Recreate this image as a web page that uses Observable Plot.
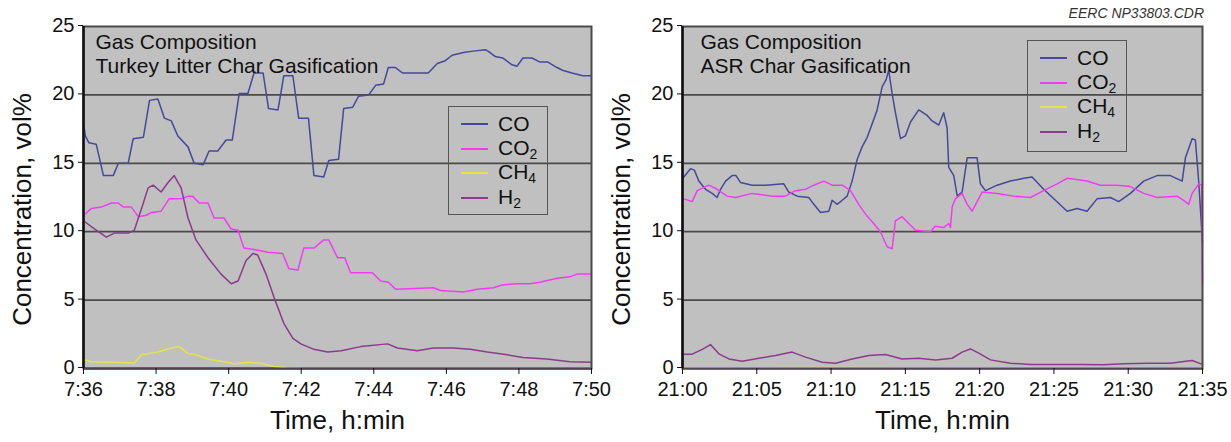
<!DOCTYPE html>
<html>
<head>
<meta charset="utf-8">
<script src="https://cdn.jsdelivr.net/npm/d3@7"></script>
<script src="https://cdn.jsdelivr.net/npm/@observablehq/plot@0.6"></script>
<style>
  html, body { margin: 0; padding: 0; background: #fff; }
  #wrap { position: relative; width: 1231px; height: 442px; overflow: hidden; font-family: "Liberation Sans", Arial, sans-serif; }
  .panel { position: absolute; top: 0; }
  .legend { position: absolute; border: 1.5px solid #555; box-sizing: border-box; }
  .legend .row { position: absolute; left: 0; height: 24px; display: flex; align-items: center; font-size: 21px; color: #111; }
  .legend .sw { display: inline-block; width: 27px; height: 0; border-top: 2px solid; margin-left: 12px; margin-right: 10px; }
  .legend sub { font-size: 14px; vertical-align: -4px; }
  .note { position: absolute; font-style: italic; font-size: 14px; color: #333; }
</style>
</head>
<body>
<div id="wrap"></div>
<script>
// ---------------- data ----------------
const seriesNames = ["CO", "CO2", "CH4", "H2"];
const seriesColors = ["#47479c", "#f23cf2", "#e4e44a", "#8c3a8c"];
const yTicks = [0, 5, 10, 15, 20, 25];

// Left chart: Turkey litter, minutes after 7:36
const leftStart = 7 * 60 + 36;
const leftEnd = 7 * 60 + 50;
const leftTicks = [456, 458, 460, 462, 464, 466, 468, 470];
const leftTitle = ["Gas Composition", "Turkey Litter Char Gasification"];
const leftCO = [[0,17.9],[0.05,17.0],[0.15,16.5],[0.35,16.4],[0.55,14.1],[0.82,14.1],[0.96,15.0],[1.23,15.0],[1.37,16.8],[1.65,16.9],[1.82,19.6],[2.05,19.7],[2.23,18.3],[2.42,18.1],[2.6,17.0],[2.88,16.2],[3.05,15.0],[3.3,14.9],[3.46,15.9],[3.7,15.9],[3.93,16.7],[4.1,16.7],[4.29,20.1],[4.53,20.1],[4.7,21.6],[4.95,21.6],[5.1,19.0],[5.36,18.9],[5.52,21.4],[5.77,21.4],[5.93,18.3],[6.2,18.3],[6.35,14.1],[6.62,14.0],[6.76,15.2],[7.03,15.3],[7.17,19.0],[7.42,19.1],[7.58,19.9],[7.86,20.0],[8.05,20.7],[8.27,20.8],[8.4,22.0],[8.6,22.0],[8.79,21.6],[9.5,21.6],[9.75,22.3],[9.97,22.5],[10.16,22.9],[10.47,23.1],[10.74,23.2],[11.07,23.3],[11.15,23.2],[11.35,22.8],[11.55,22.7],[11.81,22.2],[11.95,22.1],[12.11,22.7],[12.36,22.7],[12.58,22.4],[12.8,22.4],[13.05,22.0],[13.2,21.8],[13.46,21.6],[13.76,21.4],[14,21.4]];
const leftCO2 = [[0,11.2],[0.22,11.7],[0.49,11.8],[0.77,12.1],[0.95,12.1],[1.1,11.8],[1.32,11.8],[1.51,11.1],[1.73,11.2],[1.87,11.4],[2.14,11.5],[2.36,12.4],[2.69,12.4],[2.88,12.6],[3.0,12.6],[3.19,12.1],[3.43,12.1],[3.6,11.0],[3.87,11.0],[4.07,10.2],[4.26,10.1],[4.42,8.8],[4.7,8.7],[5.08,8.5],[5.49,8.4],[5.66,7.3],[5.91,7.2],[6.07,8.8],[6.35,8.8],[6.62,9.4],[6.76,9.4],[7.0,8.1],[7.2,8.1],[7.36,7.0],[7.96,7.0],[8.19,6.4],[8.4,6.3],[8.6,5.8],[9.64,5.9],[9.84,5.7],[10.47,5.6],[10.85,5.8],[11.3,5.9],[11.54,6.1],[11.95,6.2],[12.3,6.2],[12.58,6.3],[13.05,6.6],[13.4,6.7],[13.6,6.9],[14,6.9]];
const leftCH4 = [[0,0.67],[0.22,0.5],[0.85,0.45],[1.4,0.4],[1.6,1.0],[2.05,1.2],[2.42,1.5],[2.64,1.6],[2.88,1.1],[3.1,1.0],[3.43,0.7],[3.87,0.5],[4.15,0.35],[4.6,0.45],[4.95,0.35],[5.25,0.15],[5.6,0.05],[6,0.02],[14,0.02]];
const leftH2 = [[0,10.8],[0.3,10.2],[0.63,9.6],[0.85,9.9],[1.23,9.9],[1.4,10.1],[1.6,11.7],[1.78,13.2],[1.92,13.4],[2.14,12.9],[2.33,13.6],[2.5,14.1],[2.69,13.2],[2.88,11.0],[3.1,9.4],[3.43,8.1],[3.79,6.9],[4.07,6.2],[4.26,6.4],[4.48,7.9],[4.67,8.4],[4.8,8.3],[5.03,6.9],[5.25,5.2],[5.52,3.3],[5.77,2.2],[5.99,1.8],[6.35,1.4],[6.73,1.2],[7.1,1.3],[7.64,1.6],[8.38,1.8],[8.65,1.5],[9.2,1.3],[9.64,1.5],[10.19,1.5],[10.66,1.4],[11.13,1.2],[11.68,1.0],[12.11,0.8],[12.77,0.7],[13.4,0.5],[14,0.45]];

// Right chart: ASR, minutes after 21:00
const rightStart = 21 * 60;
const rightEnd = 21 * 60 + 35;
const rightTicks = [1260, 1265, 1270, 1275, 1280, 1285, 1290, 1295];
const rightTitle = ["Gas Composition", "ASR Char Gasification"];
const rightCO = [[0,13.9],[0.09,14.0],[0.54,14.6],[0.8,14.5],[1.1,13.7],[1.55,13.1],[2.0,12.8],[2.33,12.5],[2.56,13.1],[2.9,13.7],[3.34,14.1],[3.6,14.1],[3.9,13.6],[4.69,13.4],[5.59,13.4],[6.82,13.5],[7.15,12.9],[7.72,12.6],[8.5,12.5],[8.84,12.0],[9.29,11.4],[9.85,11.5],[10.07,12.3],[10.41,12.0],[10.75,12.3],[11.08,12.6],[11.42,13.7],[11.76,15.3],[12.09,16.2],[12.43,16.9],[12.77,17.9],[13.1,18.9],[13.44,20.6],[13.7,21.1],[13.88,21.8],[14.11,20.1],[14.33,18.7],[14.67,16.8],[15.0,17.0],[15.34,18.0],[15.9,18.9],[16.47,18.5],[16.8,18.1],[17.25,17.8],[17.58,18.7],[17.81,17.6],[17.92,14.7],[18.26,14.1],[18.49,12.6],[18.82,12.9],[19.16,15.4],[19.83,15.4],[20.05,13.5],[20.39,13.0],[21.18,13.4],[22.07,13.7],[22.97,13.9],[23.53,14.0],[24.31,13.1],[25.1,12.3],[25.89,11.5],[26.56,11.7],[27.23,11.5],[27.9,12.4],[28.8,12.5],[29.36,12.2],[30.15,12.8],[31.04,13.7],[31.94,14.1],[32.84,14.1],[33.63,13.7],[33.85,15.4],[34.3,16.8],[34.52,16.7],[34.75,13.6],[35,9.2]];
const rightCO2 = [[0,12.4],[0.09,12.4],[0.65,12.2],[0.99,13.0],[1.77,13.4],[2.33,13.1],[3.0,12.6],[3.57,12.5],[4.69,12.8],[6.04,12.6],[6.93,12.6],[7.6,13.0],[8.28,13.1],[8.84,13.4],[9.51,13.7],[10.07,13.4],[10.75,13.4],[11.31,13.0],[11.86,12.0],[12.31,11.3],[12.87,10.6],[13.32,10.0],[13.77,8.9],[14.11,8.75],[14.33,10.8],[14.78,11.1],[15.23,10.6],[15.68,10.1],[16.69,10.0],[17.0,10.4],[17.58,10.3],[17.92,10.6],[18.03,10.3],[18.15,11.8],[18.37,12.4],[18.82,12.8],[19.16,12.0],[19.5,11.5],[19.83,12.2],[20.17,12.9],[21.18,12.8],[22.3,12.6],[23.42,12.5],[24.31,13.0],[25.22,13.5],[25.89,13.9],[27.23,13.7],[28.13,13.4],[29.25,13.4],[30.15,13.3],[31.04,12.8],[31.94,12.5],[33.29,12.6],[33.85,12.2],[34.07,12.0],[34.3,12.8],[34.75,13.5],[34.95,13.4],[35,6.2]];
const rightCH4 = [[0,0.05],[5,0.05],[10,0.08],[15,0.05],[20,0.06],[25,0.05],[30,0.05],[35,0.05]];
const rightH2 = [[0,1.05],[0.65,1.05],[1.33,1.4],[1.88,1.75],[2.45,1.07],[3.12,0.7],[4.02,0.53],[5.14,0.75],[6.26,0.95],[7.38,1.2],[8.28,0.83],[9.4,0.46],[10.3,0.39],[11.42,0.7],[12.54,0.95],[13.66,1.02],[14.78,0.7],[15.9,0.75],[17.03,0.63],[18.15,0.75],[18.82,1.2],[19.38,1.43],[19.94,1.12],[20.73,0.63],[22.07,0.39],[23.42,0.29],[25.22,0.29],[26.78,0.29],[28.35,0.27],[29.7,0.34],[31.27,0.39],[32.84,0.39],[34.3,0.58],[35,0.3]];

const yLabel = "Concentration, vol%";
const xLabel = "Time, h:min";
const noteText = "EERC NP33803.CDR";

// ---------------- drawing ----------------
const FONT = '"Liberation Sans", Arial, sans-serif';
const hm = m => `${Math.floor(m / 60)}:${String(Math.round(m % 60)).padStart(2, "0")}`;

function rows(start, arrs) {
  const out = [];
  arrs.forEach((arr, i) => arr.forEach(([t, v]) => out.push({t: start + t, v, s: seriesNames[i]})));
  return out;
}

function chart({start, end, ticks, title, data, width, marginLeft, marginRight, zeroColor, titleDx}) {
  return Plot.plot({
    width, height: 442,
    marginLeft, marginRight, marginTop: 26, marginBottom: 74,
    style: {fontFamily: FONT, fontSize: "20px", color: "#111", background: "transparent", overflow: "visible"},
    x: {domain: [start, end], ticks, tickFormat: hm},
    y: {domain: [0, 25], ticks: yTicks},
    color: {domain: seriesNames, range: seriesColors},
    marks: [
      Plot.frame({fill: "#c0c0c0"}),
      Plot.gridY(yTicks.filter(d => d > 0 && d < 25), {stroke: "#4a4a4a", strokeOpacity: 1, strokeWidth: 1.8}),
      Plot.ruleY([0], {stroke: zeroColor, strokeWidth: 3}),
      Plot.line(data, {x: "t", y: "v", z: "s", stroke: "s", strokeWidth: 1.5}),
      Plot.frame({stroke: "#4a4a4a", strokeWidth: 2}),
      Plot.ruleX([start], {stroke: "#111", strokeWidth: 2.5}),
      Plot.axisX({ticks, tickFormat: hm, tickSize: 6, tickPadding: 7, label: null, fontSize: 20}),
      Plot.axisY({ticks: yTicks, tickSize: 5, tickPadding: 4, label: null, fontSize: 20, dy: -1}),
      Plot.text([title.join("\n")], {frameAnchor: "top-left", dx: titleDx, dy: 6, lineAnchor: "top", fontSize: 21, lineHeight: 1.12, fill: "#111"}),
      Plot.text([yLabel], {frameAnchor: "left", textAnchor: "middle", rotate: -90, dx: -61, dy: 12, fontSize: 26, fill: "#111"}),
      Plot.text([xLabel], {frameAnchor: "bottom", textAnchor: "middle", dy: 60, fontSize: 26, fill: "#111"})
    ]
  });
}

const wrap = document.getElementById("wrap");

const left = chart({start: leftStart, end: leftEnd, ticks: leftTicks, title: leftTitle,
  data: rows(leftStart, [leftCO, leftCO2, leftCH4, leftH2]),
  width: 610, marginLeft: 83, marginRight: 19, zeroColor: "#3f8f92", titleDx: 12});
left.classList.add("panel"); left.style.left = "0px";
wrap.appendChild(left);

const right = chart({start: rightStart, end: rightEnd, ticks: rightTicks, title: rightTitle,
  data: rows(rightStart, [rightCO, rightCO2, rightCH4, rightH2]),
  width: 621, marginLeft: 72, marginRight: 29, zeroColor: "#9e9e3a", titleDx: 18});
right.classList.add("panel"); right.style.left = "610px";
wrap.appendChild(right);

function legend(x, y, h) {
  const box = document.createElement("div");
  box.className = "legend";
  Object.assign(box.style, {left: x + "px", top: y + "px", width: "100px", height: h + "px"});
  const labels = ["CO", "CO<sub>2</sub>", "CH<sub>4</sub>", "H<sub>2</sub>"];
  labels.forEach((lab, i) => {
    const r = document.createElement("div");
    r.className = "row";
    r.style.top = (5 + i * 24.6) + "px";
    r.innerHTML = `<span class="sw" style="border-color:${seriesColors[i]}"></span><span>${lab}</span>`;
    box.appendChild(r);
  });
  wrap.appendChild(box);
}
legend(448, 106, 109);
legend(1027, 40, 112);

const note = document.createElement("div");
note.className = "note";
note.textContent = noteText;
Object.assign(note.style, {right: (1231 - 1204) + "px", top: "5px"});
wrap.appendChild(note);
</script>
</body>
</html>
